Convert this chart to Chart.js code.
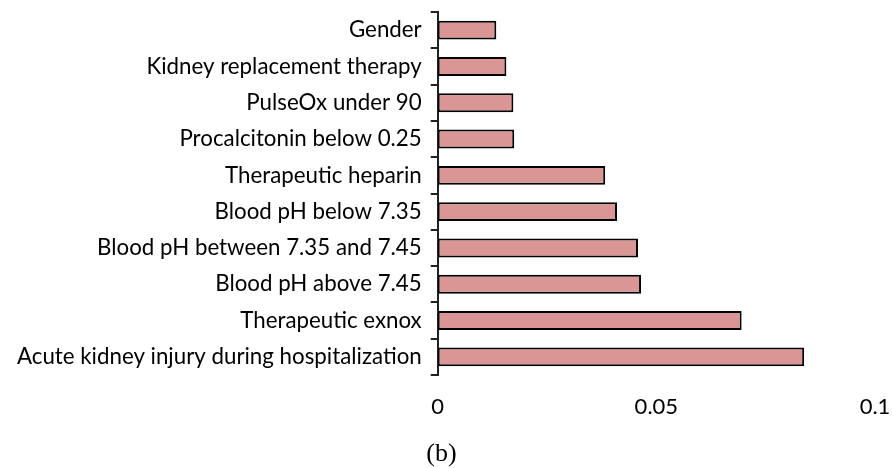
<!DOCTYPE html>
<html>
<head>
<meta charset="utf-8">
<script src="https://cdn.jsdelivr.net/npm/chart.js@4"></script>
<style>
  html, body { margin: 0; padding: 0; background: #fff; }
  #wrap { width: 893px; height: 468px; }
</style>
</head>
<body>
<div id="wrap"><canvas id="chart" width="893" height="468"></canvas></div>
<script>
// Categories (top to bottom) and their values
var categorias = [
  "Gender",
  "Kidney replacement therapy",
  "PulseOx under 90",
  "Procalcitonin below 0.25",
  "Therapeutic heparin",
  "Blood pH below 7.35",
  "Blood pH between 7.35 and 7.45",
  "Blood pH above 7.45",
  "Therapeutic exnox",
  "Acute kidney injury during hospitalization"
];
var valores = [0.0134, 0.0157, 0.0173, 0.0175, 0.0383, 0.0410, 0.0458, 0.0465, 0.0695, 0.0838];
var ticksX = [0, 0.05, 0.1];

var ctx = document.getElementById("chart").getContext("2d");

var Grafico = new Chart(ctx, {
  type: "bar",
  data: {
    labels: categorias,
    datasets: [{
      data: valores,
      backgroundColor: "#DA9694",
      borderColor: "#000000",
      borderWidth: 2,
      borderSkipped: false,
      categoryPercentage: 1,
      barPercentage: 0.52
    }]
  },
  options: {
    indexAxis: "y",
    responsive: false,
    animation: false,
    layout: { padding: { top: 12, right: 18, left: 8, bottom: 1 } },
    plugins: {
      legend: { display: false },
      tooltip: { enabled: false },
      title: {
        display: true,
        position: "bottom",
        text: "(b)",
        color: "#000",
        font: { family: "Liberation Serif", size: 26, weight: "normal", lineHeight: 1 },
        padding: { top: 20, bottom: 0 }
      }
    },
    scales: {
      x: {
        min: 0,
        max: 0.1,
        afterBuildTicks: function (axis) {
          axis.ticks = ticksX.map(function (v) { return { value: v }; });
        },
        afterFit: function (axis) {
          axis.height = 46;
          axis.paddingLeft = 0;
          axis.paddingRight = 0;
        },
        ticks: {
          color: "#000",
          font: { family: "Lato", size: 22 },
          padding: 19,
          maxRotation: 0,
          callback: function (v) { return String(v); }
        },
        grid: { display: false, drawTicks: false },
        border: { display: false }
      },
      y: {
        afterFit: function (axis) {
          axis.paddingTop = 0;
          axis.paddingBottom = 0;
        },
        ticks: {
          color: "#000",
          font: { family: "Lato", size: 22.3 },
          padding: 9
        },
        grid: {
          drawOnChartArea: false,
          drawTicks: true,
          tickLength: 7,
          color: "#222",
          lineWidth: 2,
          offset: true
        },
        border: { display: true, color: "#222", width: 2 }
      }
    }
  }
});
</script>
</body>
</html>
